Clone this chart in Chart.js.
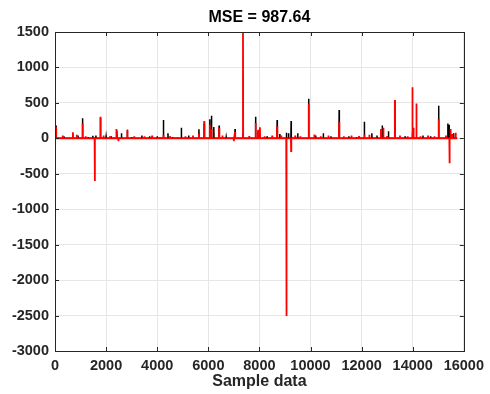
<!DOCTYPE html>
<html>
<head>
<meta charset="utf-8">
<script src="https://cdn.jsdelivr.net/npm/chart.js@4.4.0/dist/chart.umd.min.js"></script>
<style>
  html, body { margin: 0; padding: 0; background: #fff; }
  #wrap { width: 490px; height: 394px; }
</style>
</head>
<body>
<div id="wrap"><canvas id="grafico" width="490" height="394"></canvas></div>
<script>
// valores (amostra, valor)
const amostraFinal = 15740;

const pretoIdx = [40, 350, 700, 900, 1077, 1300, 1480, 1600, 1778, 2000, 2200, 2420, 2600, 2830, 3000, 3400, 3700, 4000, 4243, 4420, 4600, 4944, 5230, 5632, 5839, 6060, 6124, 6215, 6423, 6700, 7045, 7357, 7850, 7950, 8020, 8300, 8693, 8800, 9057, 9140, 9240, 9500, 9926, 10200, 10500, 10800, 11120, 11500, 11800, 12106, 12400, 12600, 12806, 13050, 13300, 13700, 13987, 14400, 14700, 15013, 15375, 15420, 15600];
const pretoVal = [180, 30, 50, 40, 282, 20, 35, 40, 290, 25, 30, 110, 70, 110, 20, 40, 30, 30, 258, 70, 20, 150, 40, 128, 210, 268, 320, 160, 180, 20, 130, 60, 305, 100, 40, 30, 258, 60, 80, 70, 244, 70, 559, 40, 70, 30, 399, 30, 20, 235, 70, 40, 180, 100, 540, 30, 80, 40, 30, 460, 210, 190, 70];

const vermelhoIdx = [40, 300, 700, 850, 1077, 1200, 1557, 1778, 1900, 2150, 2400, 2480, 2830, 3100, 3500, 3800, 4100, 4243, 4500, 4800, 5100, 5400, 5632, 5839, 6060, 6124, 6423, 6550, 7000, 7045, 7357, 7600, 7850, 7950, 8020, 8200, 8500, 8693, 8850, 9057, 9240, 9400, 9600, 9926, 10150, 10400, 10700, 11120, 11300, 11600, 11900, 12106, 12300, 12756, 12850, 13000, 13300, 13500, 13800, 13987, 14030, 14143, 14300, 14600, 14850, 15013, 15300, 15440, 15480, 15550, 15680];
const vermelhoVal = [164, 40, 85, 50, 211, 30, -602, 305, 40, 30, 130, -40, 125, 30, 30, 40, 20, 50, 30, 20, 30, 40, 60, 244, 190, 130, 150, 40, -40, 90, 1560, 30, 215, 120, 155, 30, 40, 170, 40, -2506, -180, 40, 30, 484, 55, 30, 40, 235, 30, 40, 30, 55, 50, 130, 150, 30, 540, 40, 30, 719, 150, 493, 30, 40, 30, 268, 40, -353, 130, 60, 80];

const xTicks = [0, 2000, 4000, 6000, 8000, 10000, 12000, 14000, 16000];
const yTicks = [-3000, -2500, -2000, -1500, -1000, -500, 0, 500, 1000, 1500];

function montarSerie(idx, val) {
    const pts = [{ x: 0, y: 0 }];
    idx.forEach((x, i) => {
        pts.push({ x: x - 8, y: 0 }, { x: x, y: val[i] }, { x: x + 8, y: 0 });
    });
    pts.push({ x: amostraFinal, y: 0 });
    return pts;
}

const fonte = 'Liberation Sans, Arial, Helvetica, sans-serif';

// moldura e marcas internas, estilo MATLAB
const molduraPlugin = {
    id: 'moldura',
    afterDatasetsDraw(chart) {
        const { ctx, chartArea: a, scales } = chart;
        ctx.save();
        ctx.strokeStyle = '#262626';
        ctx.lineWidth = 1;
        ctx.beginPath();
        xTicks.forEach(v => {
            const px = Math.round(scales.x.getPixelForValue(v)) + 0.5;
            ctx.moveTo(px, a.bottom); ctx.lineTo(px, a.bottom - 4);
            ctx.moveTo(px, a.top); ctx.lineTo(px, a.top + 4);
        });
        yTicks.forEach(v => {
            const py = Math.round(scales.y.getPixelForValue(v)) + 0.5;
            ctx.moveTo(a.left, py); ctx.lineTo(a.left + 4, py);
            ctx.moveTo(a.right, py); ctx.lineTo(a.right - 4, py);
        });
        ctx.stroke();
        ctx.strokeRect(Math.round(a.left) + 0.5, Math.round(a.top) + 0.5,
            Math.round(a.right - a.left), Math.round(a.bottom - a.top));
        ctx.fillStyle = '#000';
        ctx.font = 'bold 16px ' + fonte;
        ctx.textAlign = 'center';
        ctx.textBaseline = 'middle';
        ctx.fillText('MSE = 987.64', (a.left + a.right) / 2, 18);
        ctx.restore();
    }
};

new Chart(document.getElementById('grafico'), {
    type: 'scatter',
    data: {
        datasets: [
            {
                label: 'real',
                data: montarSerie(pretoIdx, pretoVal),
                showLine: true,
                borderColor: '#000000',
                borderWidth: 1.5,
                pointRadius: 0,
                tension: 0,
                order: 2
            },
            {
                label: 'previsto',
                data: montarSerie(vermelhoIdx, vermelhoVal),
                showLine: true,
                borderColor: '#ff0000',
                borderWidth: 1.8,
                pointRadius: 0,
                tension: 0,
                order: 1
            }
        ]
    },
    options: {
        responsive: false,
        animation: false,
        layout: { padding: { left: 0, right: 24, top: 32, bottom: 0 } },
        plugins: {
            legend: { display: false },
            tooltip: { enabled: false }
        },
        scales: {
            x: {
                type: 'linear',
                min: 0,
                max: 16000,
                afterBuildTicks: s => { s.ticks = xTicks.map(v => ({ value: v })); },
                afterFit: s => { s.height = 43; },
                grid: { color: '#e6e6e6', drawTicks: false },
                border: { display: false },
                ticks: {
                    color: '#262626',
                    padding: 6,
                    maxRotation: 0,
                    callback: v => String(v),
                    font: { family: fonte, size: 14.5, weight: 'bold' }
                },
                title: {
                    display: true,
                    text: 'Sample data',
                    color: '#262626',
                    padding: { top: 0, bottom: 3 },
                    font: { family: fonte, size: 16, weight: 'bold' }
                }
            },
            y: {
                type: 'linear',
                min: -3000,
                max: 1500,
                afterBuildTicks: s => { s.ticks = yTicks.map(v => ({ value: v })); },
                afterFit: s => { s.width = 55; },
                grid: { color: '#e6e6e6', drawTicks: false },
                border: { display: false },
                ticks: {
                    color: '#262626',
                    padding: 6,
                    callback: v => String(v),
                    font: { family: fonte, size: 14.5, weight: 'bold' }
                }
            }
        }
    },
    plugins: [molduraPlugin]
});
</script>
</body>
</html>
